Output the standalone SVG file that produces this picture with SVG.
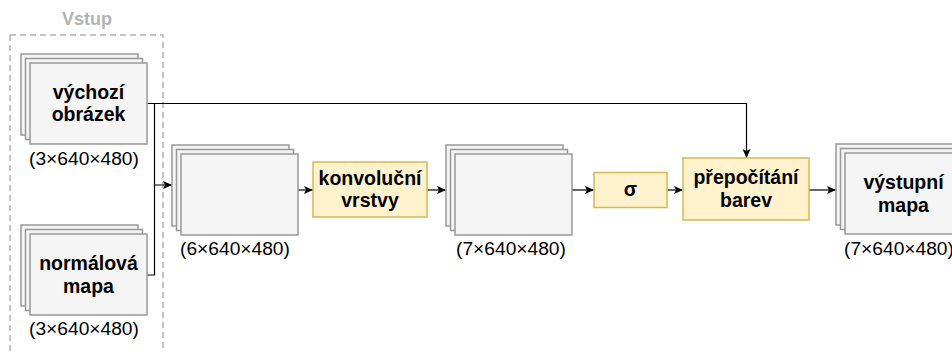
<svg xmlns="http://www.w3.org/2000/svg" width="952" height="352" viewBox="0 0 952 352">
  <style>
    text { font-family: "Liberation Sans", Arial, Helvetica, sans-serif; font-size: 19.2px; fill: #000; text-anchor: middle; }
    .b { font-weight: bold; font-size: 19.5px; }
    .sheet { fill: #f5f5f5; stroke: #999999; stroke-width: 1.5; }
    .op { fill: #fff2cc; stroke: #d6b656; stroke-width: 1.5; }
    .edge { fill: none; stroke: #000; stroke-width: 1.2; }
    .group { fill: none; stroke: #b3b3b3; stroke-width: 1.5; stroke-dasharray: 6 4; }
  </style>
  <defs>
    <marker id="arrow" markerUnits="userSpaceOnUse" markerWidth="10" markerHeight="10" refX="9" refY="4" orient="auto">
      <path d="M0,0 L9,4 L0,8 L2,4 z" fill="#000"/>
    </marker>
    <!-- a stack of three sheets, 117x81 each, offset by 4.5px -->
    <g id="stack">
      <rect class="sheet" x="0" y="0" width="117" height="81"/>
      <rect class="sheet" x="4.5" y="4.5" width="117" height="81"/>
      <rect class="sheet" x="9" y="9" width="117" height="81"/>
    </g>
  </defs>

  <!-- input group -->
  <g id="vstup">
    <rect class="group" x="10" y="35" width="153" height="340"/>
    <text class="b" x="87" y="25" style="fill:#b3b3b3;font-size:18px">Vstup</text>
  </g>

  <!-- connectors -->
  <g id="connectors">
    <path class="edge" d="M147,103.5 H746.5 V158" marker-end="url(#arrow)"/>
    <path class="edge" d="M147,103.5 H154.5 V185 H172" marker-end="url(#arrow)"/>
    <path class="edge" d="M147,275 H154.5 V185"/>
    <path class="edge" d="M298,190 H313" marker-end="url(#arrow)"/>
    <path class="edge" d="M427,190 H446" marker-end="url(#arrow)"/>
    <path class="edge" d="M572,190 H594" marker-end="url(#arrow)"/>
    <path class="edge" d="M667,190 H683" marker-end="url(#arrow)"/>
    <path class="edge" d="M809,190 H836" marker-end="url(#arrow)"/>
  </g>

  <g id="vychozi-obrazek">
    <use href="#stack" x="21" y="54"/>
    <text class="b" x="88.5" y="98.5">výchozí</text>
    <text class="b" x="88.5" y="121">obrázek</text>
    <text x="84" y="165">(3×640×480)</text>
  </g>

  <g id="normalova-mapa">
    <use href="#stack" x="21" y="225"/>
    <text class="b" x="88.5" y="270">normálová</text>
    <text class="b" x="88.5" y="292.5">mapa</text>
    <text x="84" y="335">(3×640×480)</text>
  </g>

  <g id="spojeny-vstup">
    <use href="#stack" x="172" y="145"/>
    <text x="235" y="255">(6×640×480)</text>
  </g>

  <g id="konvolucni-vrstvy">
    <rect class="op" x="313" y="162" width="114" height="55"/>
    <text class="b" x="370" y="184.5">konvoluční</text>
    <text class="b" x="370" y="207">vrstvy</text>
  </g>

  <g id="mezivysledek">
    <use href="#stack" x="446" y="145"/>
    <text x="511" y="255">(7×640×480)</text>
  </g>

  <g id="sigma">
    <rect class="op" x="594" y="172.5" width="73" height="35"/>
    <text class="b" x="630.5" y="195.5">σ</text>
  </g>

  <g id="prepocitani-barev">
    <rect class="op" x="683" y="158" width="126" height="62"/>
    <text class="b" x="746" y="184">přepočítání</text>
    <text class="b" x="746" y="206.5">barev</text>
  </g>

  <g id="vystupni-mapa">
    <use href="#stack" x="836" y="144"/>
    <text class="b" x="903.5" y="189">výstupní</text>
    <text class="b" x="903.5" y="211.5">mapa</text>
    <text x="899" y="255">(7×640×480)</text>
  </g>
</svg>
